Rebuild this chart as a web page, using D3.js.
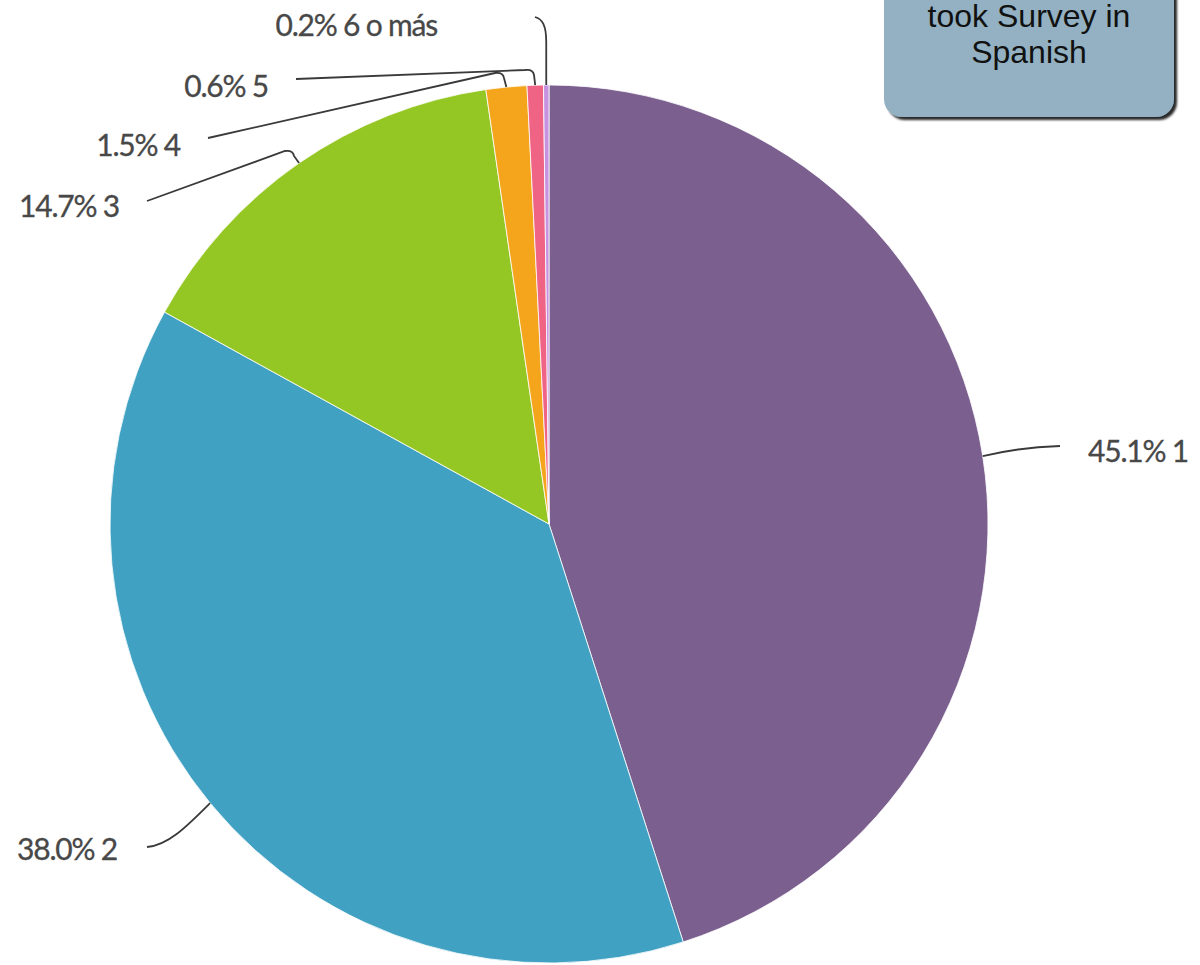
<!DOCTYPE html>
<html><head><meta charset="utf-8">
<script src="https://cdn.jsdelivr.net/npm/d3@7"></script>
<style>html,body{margin:0;padding:0;background:#fff;overflow:hidden}</style>
</head><body>
<svg id="chart" width="1200" height="965"></svg>
<script>
const categories = ["1", "2", "3", "4", "5", "6 o más"];
const values = [45.1, 38.0, 14.7, 1.5, 0.6, 0.2];
const colors = ["#7b5f8e", "#40a1c2", "#95c724", "#f4a51c", "#ef6385", "#c792df"];
const noteLines = ["took Survey in", "Spanish"];

// label layout (text anchor points and leader elbows)
const labelLayout = [
  {tx: 1088, ty: 462, anchor: "start", end: [1060, 446], kind: "straight"},
  {tx: 117, ty: 860, anchor: "end", end: [147, 847], kind: "curve"},
  {tx: 119, ty: 217, anchor: "end", end: [147, 201], kind: "elbow", elbow: [293, 150]},
  {tx: 180, ty: 156, anchor: "end", end: [208, 138], kind: "elbow", elbow: [503, 72]},
  {tx: 268, ty: 97, anchor: "end", end: [296, 79], kind: "elbow", elbow: [533, 69]},
  {tx: 437, ty: 36, anchor: "end", end: [535, 17], kind: "drop"}
];

const svg = d3.select("#chart");
const cx = 549, cy = 524, R = 439;
const g = svg.append("g").attr("transform", `translate(${cx},${cy})`);

const data = categories.map((c, i) => ({cat: c, value: values[i], color: colors[i], i}));
const pie = d3.pie().sort(null).value(d => d.value);
const arcs = pie(data);
const arc = d3.arc().innerRadius(0).outerRadius(R);

g.selectAll("path.slice").data(arcs).join("path")
  .attr("class", "slice")
  .attr("d", arc)
  .attr("fill", d => d.data.color)
  .attr("stroke", "#fff").attr("stroke-width", 0.8);

const fmt = d3.format(".1f");
const lines = svg.append("g");
arcs.forEach((a, k) => {
  const L = labelLayout[k];
  const mid = (a.startAngle + a.endAngle) / 2;
  const sx = cx + Math.sin(mid) * R, sy = cy - Math.cos(mid) * R;
  const p = d3.path();
  if (L.kind === "straight") {
    p.moveTo(sx, sy);
    p.quadraticCurveTo((sx + L.end[0]) / 2, (sy + L.end[1]) / 2 - 4, L.end[0], L.end[1]);
  } else if (L.kind === "curve") {
    p.moveTo(sx, sy);
    p.bezierCurveTo(sx - 22, sy + 22, L.end[0] + 22, L.end[1] - 2, L.end[0], L.end[1]);
  } else if (L.kind === "elbow") {
    const [ex, ey] = L.elbow;
    p.moveTo(sx, sy);
    p.lineTo(ex + 1, ey + 6);
    p.quadraticCurveTo(ex, ey, ex - 8, ey + 1);
    p.lineTo(L.end[0], L.end[1]);
  } else {
    p.moveTo(sx, sy);
    p.lineTo(sx, L.end[1] + 25);
    p.bezierCurveTo(sx, L.end[1] + 8, sx - 4, L.end[1] + 2, L.end[0], L.end[1]);
  }
  lines.append("path").attr("d", p.toString())
    .attr("fill", "none").attr("stroke", "#3a3a3a").attr("stroke-width", 1.8);
  svg.append("text")
    .attr("x", L.tx).attr("y", L.ty)
    .attr("text-anchor", L.anchor)
    .attr("font-family", "Lato, sans-serif")
    .attr("font-size", 30)
    .attr("letter-spacing", -1.2)
    .attr("fill", "#484848")
    .attr("stroke", "#484848").attr("stroke-width", 0.3)
    .text(`${fmt(a.data.value)}% ${a.data.cat}`);
});

// note box
const defs = svg.append("defs");
const f = defs.append("filter").attr("id", "sh").attr("x", "-10%").attr("y", "-10%").attr("width", "130%").attr("height", "130%");
f.append("feDropShadow").attr("dx", 3).attr("dy", 3).attr("stdDeviation", 1.2).attr("flood-color", "#1a1a1a").attr("flood-opacity", 0.95);
svg.append("rect").attr("x", 884).attr("y", -30).attr("width", 290).attr("height", 147)
  .attr("rx", 18).attr("fill", "#93b1c2").attr("filter", "url(#sh)");
svg.append("g").selectAll("text").data(noteLines).join("text")
  .attr("x", 1029).attr("y", (d, i) => 27 + i * 36)
  .attr("text-anchor", "middle")
  .attr("font-family", "Liberation Sans, Arial, sans-serif")
  .attr("font-size", 32).attr("fill", "#111")
  .text(d => d);
</script>
</body></html>
